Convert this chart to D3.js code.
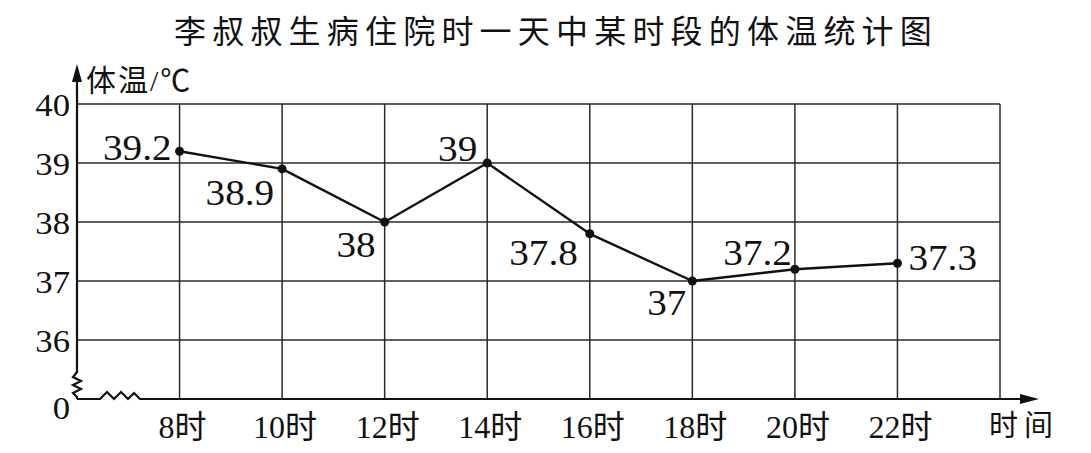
<!DOCTYPE html>
<html>
<head>
<meta charset="utf-8">
<script src="https://cdn.jsdelivr.net/npm/d3@7/dist/d3.min.js"></script>
<style>
  html, body { margin: 0; padding: 0; background: #fff; }
  svg { display: block; }
</style>
</head>
<body>
<svg id="chart" width="1091" height="453"></svg>
<script>
// ---- data ----
const title = "李叔叔生病住院时一天中某时段的体温统计图";
const hours = [8, 10, 12, 14, 16, 18, 20, 22];
const hourLabels = ["8时", "10时", "12时", "14时", "16时", "18时", "20时", "22时"];
const temps = [39.2, 38.9, 38, 39, 37.8, 37, 37.2, 37.3];
const tempLabels = ["39.2", "38.9", "38", "39", "37.8", "37", "37.2", "37.3"];
const yTickValues = [35, 36, 37, 38, 39, 40];   // 35 stands for the broken "0"
const yTickLabels = ["0", "36", "37", "38", "39", "40"];
const yAxisTitle = "体温/℃";
const xAxisTitle = "时间";

// ---- label placement (styling, not data) ----
const labelDx = [-8, -8, -9, -10, -12, -6, -3, 11];
const labelDy = [9, 36, 35, -2, 31, 34, -4, 7];
const labelAnchor = ["end", "end", "end", "end", "end", "end", "end", "start"];

// ---- layout ----
const svg = d3.select("#chart");
const x = d3.scaleLinear().domain([6, 24]).range([77, 1000]);
const y = d3.scaleLinear().domain([35, 40]).range([399, 104]);
const serif = "'Liberation Serif', 'Times New Roman', 'Noto Sans CJK SC', serif";
const cjk = "'Noto Sans CJK SC', sans-serif";
const stretch = 1.12;

// title
svg.append("text")
  .attr("x", 556).attr("y", 43)
  .attr("text-anchor", "middle")
  .attr("font-family", cjk)
  .attr("font-size", 32)
  .attr("letter-spacing", 6.2)
  .attr("fill", "#111")
  .text(title);

// grid
const g = svg.append("g");
const gridHours = d3.range(8, 25, 2);
g.selectAll("line.v").data(gridHours).join("line")
  .attr("x1", d => x(d)).attr("x2", d => x(d))
  .attr("y1", y(40)).attr("y2", y(35))
  .attr("stroke", "#2a2a2a").attr("stroke-width", 1.5);
g.selectAll("line.h").data(yTickValues.slice(1)).join("line")
  .attr("x1", x(6)).attr("x2", x(24))
  .attr("y1", d => y(d)).attr("y2", d => y(d))
  .attr("stroke", "#2a2a2a").attr("stroke-width", 1.5);

// axes
const x0 = x(6), y0 = y(35);
const axisColor = "#111";
// y axis with break
const yAxisPts = [[x0, y0], [x0, y0 - 2], [x0 - 4, y0 - 6], [x0 + 4, y0 - 10], [x0 - 4, y0 - 14],
  [x0 + 4, y0 - 18], [x0 - 4, y0 - 22], [x0, y0 - 27], [x0, 78]];
svg.append("path")
  .attr("d", d3.line()(yAxisPts))
  .attr("fill", "none").attr("stroke", axisColor).attr("stroke-width", 2.2)
  .attr("stroke-linejoin", "miter");
svg.append("path")
  .attr("d", d3.line()([[x0, 64], [x0 - 5, 82], [x0 + 5, 82]]) + "Z")
  .attr("fill", axisColor);
// x axis with break
const xAxisPts = [[x0, y0], [x0 + 23, y0], [x0 + 30, y0 - 7], [x0 + 37, y0], [x0 + 44, y0 - 7],
  [x0 + 51, y0], [x0 + 57, y0 - 6], [x0 + 63, y0], [1025, y0]];
svg.append("path")
  .attr("d", d3.line()(xAxisPts))
  .attr("fill", "none").attr("stroke", axisColor).attr("stroke-width", 2.2);
svg.append("path")
  .attr("d", d3.line()([[1039, y0], [1020, y0 - 5], [1020, y0 + 5]]) + "Z")
  .attr("fill", axisColor);

// y tick labels
svg.selectAll("text.yt").data(yTickValues).join("text")
  .attr("class", "yt")
  .attr("transform", (d, i) => `translate(70,${y(d) + (i === 0 ? 20 : 12)}) scale(${stretch},1)`)
  .attr("text-anchor", "end")
  .attr("font-family", serif)
  .attr("font-size", 31)
  .attr("fill", "#111")
  .text((d, i) => yTickLabels[i]);

// x tick labels
svg.selectAll("text.xt").data(hours).join("text")
  .attr("class", "xt")
  .attr("transform", d => `translate(${x(d) + 3},438)`)
  .attr("text-anchor", "middle")
  .attr("font-family", serif)
  .attr("font-size", 32)
  .attr("fill", "#111")
  .text((d, i) => hourLabels[i]);

// axis titles
svg.append("text")
  .attr("x", 86).attr("y", 91)
  .attr("font-family", serif)
  .attr("font-size", 30)
  .attr("letter-spacing", 2)
  .attr("fill", "#111")
  .text(yAxisTitle);
svg.append("text")
  .attr("x", 989).attr("y", 436)
  .attr("font-family", cjk)
  .attr("font-size", 29)
  .attr("letter-spacing", 6)
  .attr("fill", "#111")
  .text(xAxisTitle);

// line
const pts = hours.map((h, i) => [x(h), y(temps[i])]);
svg.append("path")
  .attr("d", d3.line()(pts))
  .attr("fill", "none").attr("stroke", "#111").attr("stroke-width", 2.4)
  .attr("stroke-linejoin", "round");
svg.selectAll("circle.pt").data(pts).join("circle")
  .attr("class", "pt")
  .attr("cx", d => d[0]).attr("cy", d => d[1]).attr("r", 4.5)
  .attr("fill", "#111");

// value labels
svg.selectAll("text.vl").data(hours).join("text")
  .attr("class", "vl")
  .attr("transform", (d, i) => `translate(${x(d) + labelDx[i]},${y(temps[i]) + labelDy[i]}) scale(${stretch},1)`)
  .attr("text-anchor", (d, i) => labelAnchor[i])
  .attr("font-family", serif)
  .attr("font-size", 35)
  .attr("fill", "#111")
  .text((d, i) => tempLabels[i]);
</script>
</body>
</html>
